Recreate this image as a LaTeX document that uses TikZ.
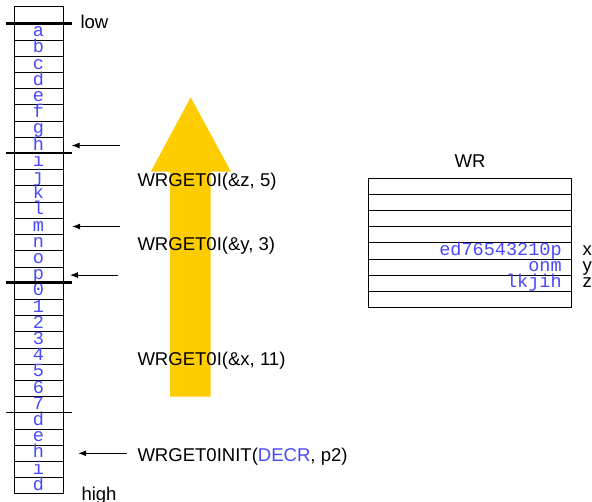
\documentclass[tikz,border=0pt]{standalone}
\usepackage{fontspec}
\setmainfont{Liberation Sans}
\setmonofont{Liberation Mono}
\usetikzlibrary{arrows.meta}
\definecolor{letterblue}{RGB}{72,72,255}
\definecolor{arrowyellow}{RGB}{255,204,0}
\newcommand{\bigtext}{\fontsize{13.9}{16}\selectfont}
\tikzset{every picture/.style={line width=0.75pt}}
\tikzset{
  cell/.style={draw, minimum width=36.75pt, minimum height=12.15pt, inner sep=0pt,
    text height=7pt, text depth=0pt, text=letterblue, font=\bigtext\ttfamily},
  wrrow/.style={draw, minimum width=152.55pt, minimum height=12.075pt, inner sep=0pt},
  wrtext/.style={inner sep=0pt, text height=7pt, text depth=0pt, text=letterblue, font=\bigtext\ttfamily},
  wrvar/.style={anchor=west, inner sep=0pt, text height=7pt, text depth=0pt, font=\bigtext},
  callname/.style={anchor=base west, inner sep=0.75pt, font=\bigtext},
  ptr/.style={-{Latex[length=6pt,width=4.5pt]}, line width=0.75pt},
  splitline/.style={line width=0.75pt},
}

\begin{document}
\begin{tikzpicture}[x=0.75pt,y=0.75pt,yscale=-1,xscale=1]
\useasboundingbox (0,0) rectangle (592,502);

% Shape: Yellow arrow
\fill[arrowyellow] (170,396.7) -- (170,171.7) -- (150.7,171.7) -- (190.7,97.3)
  -- (231,171.7) -- (210.7,171.7) -- (210.7,396.7) -- cycle;

% Memory column
\node[cell, minimum height=12.75pt] (c0) at (38.5,15.5) {};
\foreach \ch [count=\k] in {a,b,c,d,e,f,g,h,i,j,k,l,m,n,o,p,0,1,2,3,4,5,6,7,d,e,h,i,d}
  \node[cell] (c\k) at (38.5,{24+16.2*(\k-0.5)}) {\ch};

% Split lines across the column
\draw[splitline, line width=2.25pt] ([xshift=-6pt]c1.north west) -- ([xshift=6pt]c1.north east);
\draw[splitline, line width=1.5pt] ([xshift=-6pt]c9.north west) -- ([xshift=6pt]c9.north east);
\draw[splitline, line width=2.25pt] ([xshift=-6pt]c17.north west) -- ([xshift=6pt]c17.north east);
\draw[splitline] ([xshift=-6pt]c25.north west) -- ([xshift=6pt]c25.north east);

% Text Node
\node[callname] (low) at (79,28.3) {low};
% Text Node
\node[callname] (high) at (80,500) {high};

% Pointers into the column
\coordinate (from-h) at (120,0 |- c8.east);
\coordinate (from-m) at (120,0 |- c13.east);
\coordinate (from-p) at (118.3,0 |- c16.east);
\coordinate (from-init) at (126.5,0 |- c27.east);
\draw[ptr] (from-h) -- ([xshift=6pt]c8.east);
\draw[ptr] (from-m) -- ([xshift=6.5pt]c13.east);
\draw[ptr] (from-p) -- ([xshift=4.8pt]c16.east);
\draw[ptr] (from-init) -- ([xshift=11pt]c27.east);

% Text Node
\node[callname] (getz) at (136,186.7) {WRGET0I(\&z, 5)};
% Text Node
\node[callname] (gety) at (136,250) {WRGET0I(\&y, 3)};
% Text Node
\node[callname] (getx) at (136,365) {WRGET0I(\&x, 11)};
% Text Node
\node[callname] (init) at (136,461) {WRGET0INIT(\textcolor{letterblue}{DECR}, p2)};

% WR register
\node[anchor=base, inner sep=0.75pt, font=\bigtext] (wrtitle) at (470,167.3) {WR};
\foreach \k in {1,...,8}
  \node[wrrow] (r\k) at (470,{178.5+16.1*(\k-0.5)}) {};

% Text Node
\node[wrtext, anchor=east] (wrx) at ([xshift=-7.5pt]r5.east) {ed76543210p};
\node[wrtext, anchor=east] (wry) at ([xshift=-7.5pt]r6.east) {onm};
\node[wrtext, anchor=east] (wrz) at ([xshift=-7.5pt]r7.east) {lkjih};
% Text Node
\node[wrvar] (varx) at ([xshift=7.5pt]r5.east) {x};
\node[wrvar] (vary) at ([xshift=7.5pt]r6.east) {y};
\node[wrvar] (varz) at ([xshift=7.5pt]r7.east) {z};

\end{tikzpicture}
\end{document}
